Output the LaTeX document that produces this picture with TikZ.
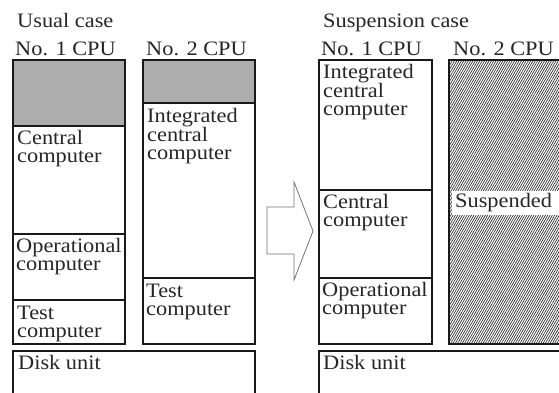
\documentclass[tikz,border=0pt]{standalone}
\usepackage{fontspec}
\setmainfont{Liberation Serif}[FakeStretch=1.09]
\usetikzlibrary{patterns.meta}
\newcommand{\mlines}[1]{\begin{tabular}[t]{@{}l@{}}#1\end{tabular}}
\begin{document}
\begin{tikzpicture}[x=1pt,y=-1pt,
  box/.style={draw=black!90,line width=1.8pt},
  graybox/.style={box,fill=black!32},
  txt/.style={anchor=base west,inner sep=0pt,text=black!85,font=\fontsize{20.5}{18}\selectfont},
  hatch/.style={box,fill=black!38,pattern={Lines[angle=60,distance=2pt,line width=0.65pt]},pattern color=black!85},
  bigarrow/.style={draw=black!55,line width=0.8pt,fill=white}]
\useasboundingbox (0,0) rectangle (559,392);
% ---- Usual case
\node[txt] (usual) at (17,27) {Usual case};
\node[txt] (u1) at (15,55) {No. 1 CPU};
\node[txt] (u2) at (146,55) {No. 2 CPU};
% No.1 CPU
\draw[graybox] (13,60) rectangle (125,126);
\draw[box] (13,126) rectangle (125,234);
\draw[box] (13,234) rectangle (125,300);
\draw[box] (13,300) rectangle (125,344);
\node[txt] (ucc) at (17,144) {\mlines{Central\\computer}};
\node[txt] (uop) at (16,252) {\mlines{Operational\\computer}};
\node[txt] (utc) at (17,319) {\mlines{Test\\computer}};
% No.2 CPU
\draw[graybox] (143,60) rectangle (255,103);
\draw[box] (143,103) rectangle (255,278);
\draw[box] (143,278) rectangle (255,344);
\node[txt] (uic) at (147,122) {\mlines{Integrated\\central\\computer}};
\node[txt] (utc2) at (146,297) {\mlines{Test\\computer}};
% Disk
\draw[box] (13,351) rectangle (255,398);
\node[txt] (udisk) at (18,369) {Disk unit};
% ---- arrow
\draw[bigarrow] (267,207) -- (294,207) -- (294,182) -- (313,231) -- (294,280) -- (294,254) -- (267,254) -- cycle;
% ---- Suspension case
\node[txt] (susp) at (323,27) {Suspension case};
\node[txt] (s1) at (321,55) {No. 1 CPU};
\node[txt] (s2) at (453,55) {No. 2 CPU};
\draw[box] (319,60) rectangle (432,190);
\draw[box] (319,190) rectangle (432,278);
\draw[box] (319,278) rectangle (432,344);
\node[txt] (sic) at (323,78) {\mlines{Integrated\\central\\computer}};
\node[txt] (scc) at (323,208) {\mlines{Central\\computer}};
\node[txt] (sop) at (322,296) {\mlines{Operational\\computer}};
\draw[hatch] (449,60) rectangle (570,344);
\fill[white] (452,191) rectangle (559,215);
\node[txt] (ssus) at (455,207) {Suspended};
\draw[box] (319,351) rectangle (570,398);
\node[txt] (sdisk) at (323,369) {Disk unit};
\end{tikzpicture}
\end{document}
